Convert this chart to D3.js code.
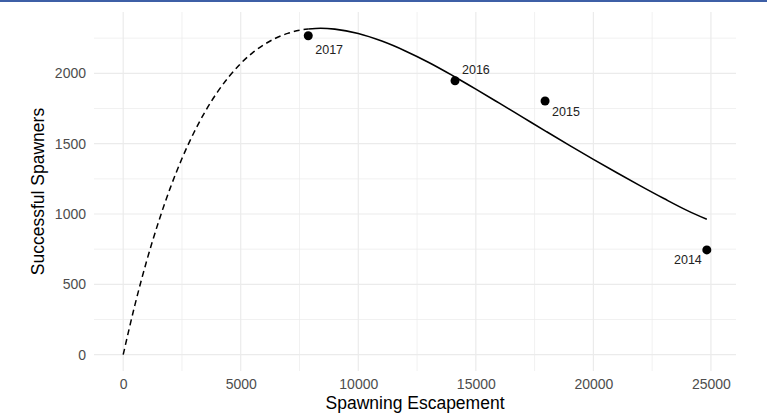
<!DOCTYPE html>
<html>
<head>
<meta charset="utf-8">
<script src="https://cdn.jsdelivr.net/npm/d3@7"></script>
<style>
  html, body { margin: 0; padding: 0; background: #ffffff; }
  svg { display: block; }
</style>
</head>
<body>
<svg id="chart" width="767" height="415"></svg>
<script>
// Observed escapement vs. successful spawners, by year
const years = ["2014", "2015", "2016", "2017"];
const escapement = [24825, 17945, 14115, 7872];
const spawners = [745, 1803, 1947, 2267];

// Fitted stock-recruit curve, sampled along escapement
const curveEscapement = [0, 500, 1000, 1500, 2000, 2500, 3000, 3500, 4000, 4500, 5000, 5500, 6000,
  6500, 7000, 7500, 7872, 8400, 9000, 10000, 11000, 12000, 13000, 14000, 15000, 16000, 17000,
  18000, 19000, 20000, 21000, 22000, 23000, 24000, 24825];
const curveSpawners = [0, 354, 667, 942, 1184, 1394, 1576, 1732, 1865, 1977, 2070, 2146, 2205,
  2251, 2284, 2306, 2315, 2320, 2314, 2283, 2229, 2159, 2077, 1985, 1888, 1788, 1687,
  1586, 1486, 1388, 1293, 1200, 1110, 1024, 962];
// Solid over the observed escapement range, dashed below it
const observedStart = d3.min(escapement);

const xTicks = [0, 5000, 10000, 15000, 20000, 25000];
const xMinor = [2500, 7500, 12500, 17500, 22500];
const yTicks = [0, 500, 1000, 1500, 2000];
const yMinor = [250, 750, 1250, 1750, 2250];

// Label placement for the year annotations
const labelDx = { "2014": -5, "2015": 7, "2016": 7, "2017": 7 };
const labelDy = { "2014": 14.5, "2015": 14.5, "2016": -7, "2017": 18 };
const labelAnchor = { "2014": "end", "2015": "start", "2016": "start", "2017": "start" };

const svg = d3.select("#chart");
const W = 767, H = 415;
const panel = { left: 94, right: 736, top: 12, bottom: 371 };

const xMaxData = d3.max(curveEscapement.concat(escapement));
const yMaxData = d3.max(curveSpawners.concat(spawners));
const x = d3.scaleLinear()
  .domain([-0.05 * xMaxData, 1.05 * xMaxData])
  .range([panel.left, panel.right]);
const y = d3.scaleLinear()
  .domain([-0.05 * yMaxData, 1.05 * yMaxData])
  .range([panel.bottom, panel.top]);

// Header band
svg.append("rect").attr("x", 0).attr("y", 0).attr("width", W).attr("height", 2)
  .attr("fill", "#3d5fa6");

// Grid
const grid = svg.append("g");
grid.selectAll(".xminor").data(xMinor).join("line")
  .attr("x1", d => x(d)).attr("x2", d => x(d))
  .attr("y1", panel.top).attr("y2", panel.bottom)
  .attr("stroke", "#ebebeb").attr("stroke-width", 0.7);
grid.selectAll(".yminor").data(yMinor).join("line")
  .attr("y1", d => y(d)).attr("y2", d => y(d))
  .attr("x1", panel.left).attr("x2", panel.right)
  .attr("stroke", "#ebebeb").attr("stroke-width", 0.7);
grid.selectAll(".xmajor").data(xTicks).join("line")
  .attr("x1", d => x(d)).attr("x2", d => x(d))
  .attr("y1", panel.top).attr("y2", panel.bottom)
  .attr("stroke", "#ebebeb").attr("stroke-width", 1.2);
grid.selectAll(".ymajor").data(yTicks).join("line")
  .attr("y1", d => y(d)).attr("y2", d => y(d))
  .attr("x1", panel.left).attr("x2", panel.right)
  .attr("stroke", "#ebebeb").attr("stroke-width", 1.2);

// Axes (labels only, no domain or tick marks)
const xAxis = svg.append("g")
  .attr("transform", `translate(0,${panel.bottom})`)
  .call(d3.axisBottom(x).tickValues(xTicks).tickSize(0).tickPadding(8).tickFormat(d3.format("d")));
const yAxis = svg.append("g")
  .attr("transform", `translate(${panel.left},0)`)
  .call(d3.axisLeft(y).tickValues(yTicks).tickSize(0).tickPadding(8).tickFormat(d3.format("d")));
[xAxis, yAxis].forEach(a => {
  a.select(".domain").remove();
  a.selectAll("text")
    .attr("fill", "#4d4d4d")
    .style("font-family", "'Liberation Sans', Arial, sans-serif")
    .style("font-size", "14px");
});

// Curve
const pts = curveEscapement.map((s, i) => ({ s, r: curveSpawners[i] }));
const line = d3.line().x(d => x(d.s)).y(d => y(d.r)).curve(d3.curveMonotoneX);
svg.append("path")
  .datum(pts.filter(d => d.s <= observedStart))
  .attr("d", line)
  .attr("fill", "none").attr("stroke", "#000").attr("stroke-width", 1.5)
  .attr("stroke-dasharray", "6,4");
svg.append("path")
  .datum(pts.filter(d => d.s >= observedStart))
  .attr("d", line)
  .attr("fill", "none").attr("stroke", "#000").attr("stroke-width", 1.6);

// Points and year labels
const obs = years.map((yr, i) => ({ yr, s: escapement[i], r: spawners[i] }));
svg.selectAll(".pt").data(obs).join("circle")
  .attr("cx", d => x(d.s)).attr("cy", d => y(d.r)).attr("r", 4.5)
  .attr("fill", "#000");
svg.selectAll(".lbl").data(obs).join("text")
  .attr("x", d => x(d.s) + labelDx[d.yr])
  .attr("y", d => y(d.r) + labelDy[d.yr])
  .attr("text-anchor", d => labelAnchor[d.yr])
  .attr("fill", "#222")
  .style("font-family", "'Liberation Sans', Arial, sans-serif")
  .style("font-size", "12.5px")
  .text(d => d.yr);

// Axis titles
svg.append("text")
  .attr("x", (panel.left + panel.right) / 2).attr("y", 409)
  .attr("text-anchor", "middle").attr("fill", "#000")
  .style("font-family", "'Liberation Sans', Arial, sans-serif").style("font-size", "17.5px")
  .text("Spawning Escapement");
svg.append("text")
  .attr("transform", `translate(44,${(panel.top + panel.bottom) / 2}) rotate(-90)`)
  .attr("text-anchor", "middle").attr("fill", "#000")
  .style("font-family", "'Liberation Sans', Arial, sans-serif").style("font-size", "17.5px")
  .text("Successful Spawners");
</script>
</body>
</html>
